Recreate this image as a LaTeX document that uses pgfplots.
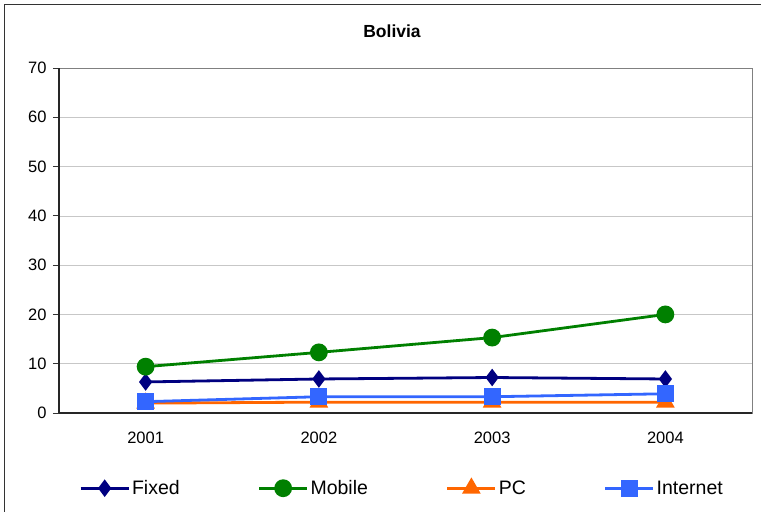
\documentclass[border=0pt]{standalone}
\usepackage{pgfplots}
\pgfplotsset{compat=1.18}
\usepackage{fontspec}
\setmainfont{Liberation Sans}
\definecolor{cfixed}{HTML}{000080}
\definecolor{cmobile}{HTML}{008000}
\definecolor{cpc}{HTML}{FF6600}
\definecolor{cnet}{HTML}{3366FF}
\begin{document}
\begin{tikzpicture}[x=1bp,y=1bp]
\path[use as bounding box] (0,0) rectangle (761,512);
\draw[line width=1.3bp,black!80] (4.5,0) -- (4.5,507.5) -- (761,507.5);
\node[font=\bfseries\fontsize{17.5bp}{20bp}\selectfont] at (392,481) {Bolivia};
\begin{axis}[
  at={(59bp,99bp)}, anchor=south west,
  scale only axis, width=693bp, height=345bp,
  xmin=0.5, xmax=4.5, ymin=0, ymax=70,
  xtick={1,2,3,4}, xticklabels={2001,2002,2003,2004},
  extra x ticks={0.5,1.5,2.5,3.5,4.5}, extra x tick labels={},
  extra x tick style={major tick length=7bp, tick style={black!80, line width=0.9bp}, tick pos=bottom},
  x tick style={draw=none},
  ytick={0,10,...,70},
  ymajorgrids, grid style={black!22, line width=0.6bp},
  y tick style={black!80, line width=0.9bp}, major tick length=6bp,
  tick align=outside, tick pos=left,
  axis line style={black!50, line width=0.8bp},
  tick label style={font=\fontsize{16.5bp}{18bp}\selectfont},
  xticklabel style={yshift=-9bp},
  yticklabel style={xshift=-3bp},
  /pgf/number format/assume math mode=true,
  clip=false,
  legend columns=4,
  legend style={draw=none, fill=none, at={(0.495,-0.218)}, anchor=center,
    font=\fontsize{19.5bp}{21bp}\selectfont,
    /tikz/every even column/.append style={column sep=76bp}},
  legend image code/.code={
    \draw[#1,mark repeat=2,mark phase=2] plot coordinates {(0bp,0bp) (24bp,0bp) (48bp,0bp)};},
]
\draw[black!85, line width=1.2bp] (axis cs:0.5,0) -- (axis cs:4.5,0);
\draw[black!85, line width=1.2bp] (axis cs:0.5,0) -- (axis cs:0.5,70);
\addplot[cfixed, line width=2.8bp, mark=diamond*, mark size=6.5bp, mark options={solid}] coordinates {(1,6.3) (2,6.9) (3,7.2) (4,6.9)};
\addlegendentry{Fixed}
\addplot[cmobile, line width=2.8bp, mark=*, mark size=7.5bp] coordinates {(1,9.4) (2,12.3) (3,15.3) (4,20.0)};
\addlegendentry{Mobile}
\addplot[cpc, line width=2.8bp, mark=triangle*, mark size=8bp] coordinates {(1,2.0) (2,2.2) (3,2.2) (4,2.2)};
\addlegendentry{PC}
\addplot[cnet, line width=2.8bp, mark=square*, mark size=7bp] coordinates {(1,2.3) (2,3.3) (3,3.3) (4,3.9)};
\addlegendentry{Internet}
\end{axis}
\end{tikzpicture}
\end{document}
